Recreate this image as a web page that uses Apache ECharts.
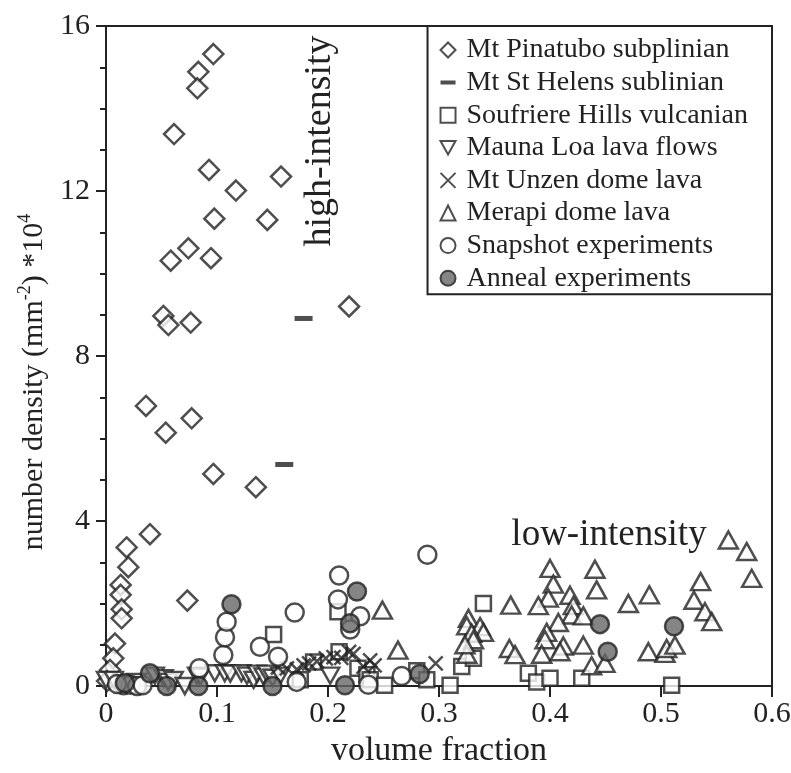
<!DOCTYPE html>
<html><head><meta charset="utf-8">
<script src="https://cdn.jsdelivr.net/npm/echarts/dist/echarts.min.js"></script>
<style>html,body{margin:0;padding:0;background:#fff}#c{width:791px;height:773px}</style>
</head><body><div id="c"></div>
<script>
const xTicks = [0, 0.1, 0.2, 0.3, 0.4, 0.5, 0.6];
const yTicks = [0, 4, 8, 12, 16];
const seriesNames = ['Mt Pinatubo subplinian','Mt St Helens sublinian','Soufriere Hills vulcanian','Mauna Loa lava flows','Mt Unzen dome lava','Merapi dome lava','Snapshot experiments','Anneal experiments'];

const pinatuboX = [0.0967,0.0832,0.0823,0.0613,0.0928,0.1577,0.117,0.0976,0.1453,0.0742,0.0583,0.0946,0.0517,0.0562,0.0763,0.219,0.036,0.0538,0.0772,0.0967,0.135,0.0396,0.0186,0.0201,0.0132,0.0132,0.0141,0.0141,0.0733,0.0081,0.0066,0.0036,0.001];
const pinatuboY = [15.32,14.89,14.49,13.38,12.51,12.35,12.01,11.33,11.30,10.61,10.31,10.37,8.97,8.75,8.81,9.20,6.79,6.14,6.49,5.14,4.82,3.68,3.36,2.88,2.45,2.21,1.86,1.64,2.07,1.03,0.67,0.39,0.12];

const helensX = [0.178,0.1606];
const helensY = [8.91,5.37];

const soufriereX = [0.151,0.209,0.21,0.187,0.175,0.227,0.235,0.238,0.251,0.28,0.289,0.31,0.3205,0.331,0.34,0.3805,0.388,0.4,0.4286,0.5096];
const soufriereY = [1.25,1.80,0.83,0.58,0.15,0.43,0.27,0.15,0.02,0.37,0.15,0.02,0.47,0.67,2.0,0.31,0.1,0.19,0.19,0.02];

const maunaX = [0.0,0.007,0.018,0.028,0.044,0.052,0.056,0.061,0.071,0.082,0.085,0.098,0.107,0.112,0.122,0.127,0.133,0.136,0.142,0.145,0.15,0.157,0.202];
const maunaY = [0.15,0.15,0.05,0.1,0.25,0.19,0.1,0.15,0.0,0.25,0.23,0.31,0.31,0.3,0.31,0.25,0.15,0.3,0.23,0.3,0.2,0.25,0.25];

const unzenX = [0.155,0.163,0.172,0.178,0.183,0.19,0.198,0.205,0.212,0.219,0.223,0.232,0.238,0.242,0.297];
const unzenY = [0.45,0.43,0.40,0.5,0.55,0.6,0.67,0.7,0.68,0.83,0.78,0.47,0.62,0.5,0.55];

const merapiX = [0.249,0.263,0.3265,0.325,0.337,0.34,0.3295,0.331,0.325,0.3234,0.3646,0.3634,0.3685,0.4,0.403,0.3985,0.3895,0.418,0.421,0.4195,0.43,0.4075,0.397,0.3955,0.412,0.43,0.3925,0.409,0.4405,0.442,0.4375,0.4495,0.4706,0.4895,0.4886,0.5036,0.5051,0.5126,0.5357,0.5297,0.5396,0.5457,0.5607,0.5772,0.5817];
const merapiY = [1.84,0.87,1.64,1.46,1.44,1.30,1.28,1.12,0.77,1.0,1.96,0.91,0.76,2.85,2.47,2.13,1.95,2.2,1.95,1.72,1.70,1.54,1.30,1.12,0.97,0.99,0.77,0.83,2.83,2.33,0.49,0.55,2.0,2.21,0.83,0.79,0.91,0.99,2.53,2.08,1.80,1.56,3.54,3.26,2.61];

const snapshotX = [0.1057,0.1072,0.1087,0.1387,0.155,0.170,0.084,0.21,0.209,0.229,0.22,0.2895,0.2664,0.2363,0.1718,0.016,0.022,0.028,0.033,0.01];
const snapshotY = [0.75,1.18,1.56,0.95,0.71,1.78,0.43,2.68,2.10,1.69,1.37,3.18,0.24,0.03,0.1,0.02,0.03,0.0,0.02,0.05];

const annealX = [0.1130,0.2261,0.2198,0.2826,0.2153,0.15,0.0396,0.0547,0.0832,0.017,0.445,0.452,0.5117];
const annealY = [1.98,2.29,1.52,0.29,0.02,0.0,0.31,0.0,0.0,0.07,1.50,0.83,1.45];

const FONT = "'Liberation Serif','Times New Roman',serif";
const INK = '#222';
const pairs = (xs, ys) => xs.map((x, i) => [x, ys[i]]);
const openStyle = {color: '#fff', borderColor: INK, borderWidth: 2.5};

const downTri = 'path://M0,0 L20,0 L10,18 Z';
const cross = 'path://M0,0 L10,10 M10,0 L0,10';
// legend dash icon: zero-area slivers keep the icon box 15x15 so the bar keeps its proportions
const dashIcon = 'path://M0,0 L15,0 Z M0,5.5 L15,5.5 L15,9.5 L0,9.5 Z M0,15 L15,15 Z';

function mk(name, xs, ys, symbol, size, style, extra) {
  return Object.assign({
    name, type: 'scatter', data: pairs(xs, ys), symbol, symbolSize: size,
    itemStyle: style, emphasis: {disabled: true}, silent: true, animation: false
  }, extra || {});
}

const series = [
  mk(seriesNames[0], pinatuboX, pinatuboY, 'diamond', 20, openStyle),
  mk(seriesNames[1], helensX, helensY, 'rect', [18, 5], {color: INK}),
  mk(seriesNames[2], soufriereX, soufriereY, 'rect', 15, openStyle),
  mk(seriesNames[3], maunaX, maunaY, downTri, [18, 16], openStyle),
  mk(seriesNames[4], unzenX, unzenY, cross, 14, {color: 'rgba(0,0,0,0)', borderColor: INK, borderWidth: 2.5}),
  mk(seriesNames[5], merapiX, merapiY, 'triangle', [19, 17], openStyle),
  mk(seriesNames[6], snapshotX, snapshotY, 'circle', 18, openStyle),
  mk(seriesNames[7], annealX, annealY, 'circle', 18, {color: '#666', borderColor: INK, borderWidth: 2.5})
];

const chart = echarts.init(document.getElementById('c'), null, {renderer: 'canvas'});
chart.setOption({
  animation: false,
  backgroundColor: '#fff',
  grid: {left: 106, right: 19, top: 26, bottom: 87, containLabel: false, outerBoundsMode: 'none',
         show: true, borderColor: INK, borderWidth: 2, backgroundColor: 'transparent'},
  xAxis: {
    type: 'value', min: xTicks[0], max: xTicks[xTicks.length - 1], interval: 0.1,
    name: 'volume fraction', nameLocation: 'middle', nameGap: 41,
    nameTextStyle: {fontFamily: FONT, fontSize: 34, color: INK},
    axisLine: {show: true, lineStyle: {color: INK, width: 2}},
    axisTick: {show: true, inside: false, length: 11, lineStyle: {color: INK, width: 2}},
    axisLabel: {fontFamily: FONT, fontSize: 30, color: INK, margin: 13,
      formatter: v => (Math.abs(v) < 1e-9 ? '0' : (Math.round(v * 10) / 10).toFixed(1))},
    splitLine: {show: false}
  },
  yAxis: {
    type: 'value', min: yTicks[0], max: yTicks[yTicks.length - 1], interval: 4,
    name: '{n|number density (mm}{s|-2}{n|) *10}{s|4}', nameLocation: 'middle', nameGap: 47, nameRotate: 90,
    nameTextStyle: {fontFamily: FONT, color: INK, padding: [0, 52, 0, 0], rich: {
      n: {fontFamily: FONT, fontSize: 30, color: INK, lineHeight: 36},
      s: {fontFamily: FONT, fontSize: 18, color: INK, lineHeight: 19, verticalAlign: 'top'}
    }},
    axisLine: {show: true, lineStyle: {color: INK, width: 2}},
    axisTick: {show: true, inside: false, length: 10, lineStyle: {color: INK, width: 2}},
    minorTick: {show: true, splitNumber: 4, length: 6, lineStyle: {color: INK, width: 2}},
    axisLabel: {fontFamily: FONT, fontSize: 30, color: INK, margin: 16},
    splitLine: {show: false}, minorSplitLine: {show: false}
  },
  legend: {
    orient: 'vertical', right: 19, top: 26, align: 'left',
    backgroundColor: '#fff', borderColor: INK, borderWidth: 2, borderRadius: 0,
    padding: [10, 24, 2, 12], itemGap: 4.6, itemWidth: 15, itemHeight: 15,
    textStyle: {fontFamily: FONT, fontSize: 28, lineHeight: 28, color: INK, padding: [0, 0, 0, 6]},
    selectedMode: false,
    data: seriesNames.map((n, i) => i === 1 ? {name: n, icon: dashIcon} : {name: n})
  },
  graphic: [
    {type: 'text', x: 320, y: 141, rotation: Math.PI / 2, silent: true,
     style: {text: 'high-intensity', fontFamily: FONT, fontSize: 38, fill: INK, align: 'center', verticalAlign: 'middle', textAlign: 'center', textVerticalAlign: 'middle'}},
    {type: 'text', x: 609, y: 535, silent: true,
     style: {text: 'low-intensity', fontFamily: FONT, fontSize: 37, fill: INK, align: 'center', verticalAlign: 'middle', textAlign: 'center', textVerticalAlign: 'middle'}}
  ],
  series
});
</script></body></html>
